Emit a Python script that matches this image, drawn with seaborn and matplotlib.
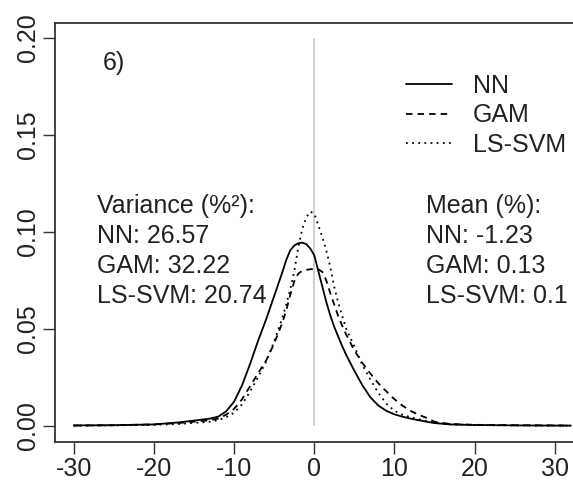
import numpy as np
import pandas as pd
import seaborn as sns
import matplotlib
matplotlib.use("Agg")
import matplotlib.pyplot as plt

# density estimates of forecast errors (%)
x_grid = [-30, -25, -20, -17, -15, -13, -12, -11, -10, -9, -8, -7, -6, -5, -4, -3.5,
          -3, -2.5, -2, -1.5, -1, -0.5, 0, 0.5, 1, 1.5, 2, 2.5, 3, 3.5, 4, 5, 6, 7,
          8, 9, 10, 11, 12, 13, 14, 15, 17, 20, 25, 30, 32]

nn_density = [0.0003, 0.0004, 0.0008, 0.0018, 0.0028, 0.0038, 0.0048, 0.0075, 0.0125,
              0.021, 0.032, 0.044, 0.055, 0.067, 0.079, 0.0855, 0.0905, 0.093, 0.0942,
              0.0945, 0.0938, 0.0915, 0.088, 0.080, 0.072, 0.064, 0.057, 0.051, 0.046,
              0.041, 0.0365, 0.0285, 0.021, 0.0148, 0.0105, 0.0078, 0.006, 0.0048,
              0.0038, 0.003, 0.0022, 0.0015, 0.0008, 0.0005, 0.0003, 0.0002, 0.0002]

gam_density = [0.0002, 0.0004, 0.0008, 0.0015, 0.0022, 0.003, 0.0038, 0.0058, 0.0088,
               0.0138, 0.0205, 0.0272, 0.0338, 0.0425, 0.053, 0.0595, 0.0675, 0.0745,
               0.0785, 0.080, 0.0805, 0.0808, 0.081, 0.0808, 0.0795, 0.075, 0.0685,
               0.0625, 0.0565, 0.0515, 0.047, 0.039, 0.0325, 0.027, 0.022, 0.0178,
               0.0138, 0.0105, 0.0078, 0.0058, 0.0042, 0.0022, 0.001, 0.0006, 0.0004,
               0.0003, 0.0002]

lssvm_density = [0.0002, 0.0003, 0.0006, 0.001, 0.0016, 0.0022, 0.003, 0.0045, 0.0068,
                 0.0112, 0.0178, 0.0252, 0.0332, 0.0435, 0.0555, 0.0625, 0.0705, 0.0795,
                 0.092, 0.1015, 0.1075, 0.1105, 0.1095, 0.1035, 0.0975, 0.0905, 0.082,
                 0.0715, 0.0635, 0.0565, 0.050, 0.041, 0.0315, 0.024, 0.017, 0.0115,
                 0.0078, 0.0058, 0.0045, 0.0035, 0.0026, 0.0016, 0.0008, 0.0005, 0.0003,
                 0.0002, 0.0002]

models = ["NN", "GAM", "LS-SVM"]
variances = ["26.57", "32.22", "20.74"]
means = ["-1.23", "0.13", "0.1"]
panel_label = "6)"
x_ticks = [-30, -20, -10, 0, 10, 20, 30]
y_ticks = [0.00, 0.05, 0.10, 0.15, 0.20]


def main():
    sns.set_theme(style="white")
    plt.rcParams["font.family"] = ["Liberation Sans", "DejaVu Sans"]
    plt.rcParams["font.size"] = 18

    fig = plt.figure(figsize=(5.73, 4.8), dpi=100)
    W, H = 573, 480
    ax = fig.add_axes([54.5 / W, 1 - 441.5 / H, (574 - 54.5) / W, (441.5 - 22.5) / H])

    # vertical reference line at zero
    ax.vlines(0, 0, 0.2, color="#c8c8c8", lw=1.2, zorder=1)

    dens = {"NN": nn_density, "GAM": gam_density, "LS-SVM": lssvm_density}
    styles = {"NN": "-", "GAM": (0, (3.6, 2.8)), "LS-SVM": (0, (1, 2.4))}
    for m in models:
        df = pd.DataFrame({"x": x_grid, "y": dens[m]})
        sns.lineplot(data=df, x="x", y="y", ax=ax, color="black", lw=1.3,
                     linestyle=styles[m], label=m, zorder=3)

    ax.set_xlim(-32.4, 32.4)
    ax.set_ylim(-0.008, 0.208)
    ax.set_xticks(x_ticks)
    ax.set_xticklabels([str(t) for t in x_ticks])
    ax.set_yticks(y_ticks)
    ax.set_yticklabels([f"{t:.2f}" for t in y_ticks], rotation=90, va="center")
    ax.set_xlabel("")
    ax.set_ylabel("")
    ax.tick_params(axis="both", direction="out", length=8.5, width=1.0,
                   color="#333333", labelsize=18, labelcolor="#222222",
                   bottom=True, left=True)
    ax.tick_params(axis="x", pad=2.5)
    ax.tick_params(axis="y", pad=1.8)
    for s in ax.spines.values():
        s.set_color("#333333")
        s.set_linewidth(1.3)

    ax.text(-25, 0.187, panel_label, ha="center", va="center", fontsize=18,
            color="#222222")

    # summary statistics blocks
    var_lines = ["Variance (%²):"] + [f"{m}: {v}" for m, v in zip(models, variances)]
    mean_lines = ["Mean (%):"] + [f"{m}: {v}" for m, v in zip(models, means)]
    for i, (vl, ml) in enumerate(zip(var_lines, mean_lines)):
        base_px = 213 + 30 * i
        yv = (426 - base_px) / 1940
        ax.text(-27.1, yv, vl, ha="left", va="baseline", fontsize=18, color="#222222")
        ax.text(13.95, yv, ml, ha="left", va="baseline", fontsize=18, color="#222222")

    leg = ax.legend(loc="upper left", bbox_to_anchor=(406 / W, 1 - 74 / H),
                    bbox_transform=fig.transFigure, frameon=False, fontsize=18,
                    handlelength=1.84, handletextpad=0.84, labelspacing=0.22,
                    borderpad=0, borderaxespad=0)
    for t in leg.get_texts():
        t.set_color("#222222")

    fig.savefig("out.png", dpi=100)
    plt.close(fig)


if __name__ == "__main__":
    main()
